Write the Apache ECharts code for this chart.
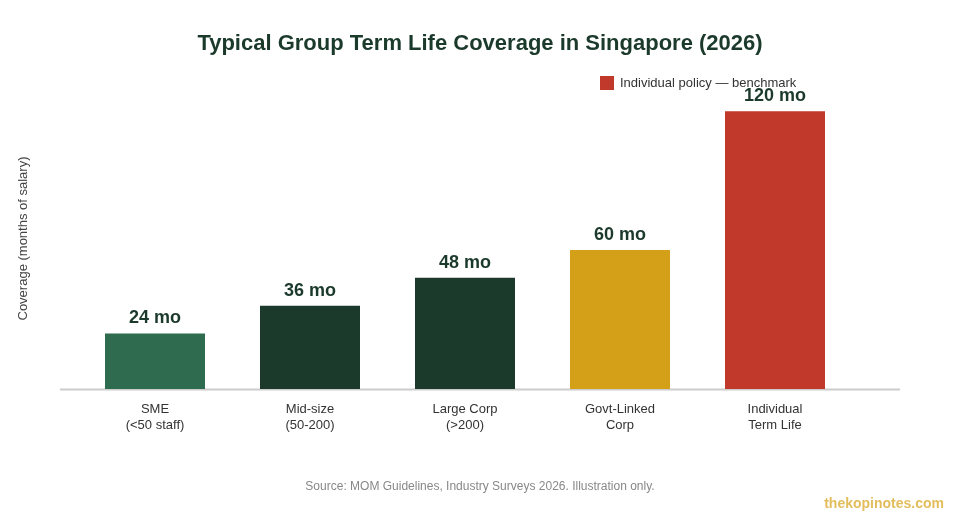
<!DOCTYPE html>
<html>
<head>
<meta charset="utf-8">
<script src="https://cdn.jsdelivr.net/npm/echarts@6/dist/echarts.min.js"></script>
<style>
  html, body { margin: 0; padding: 0; background: #fff; }
  #main { width: 960px; height: 520px; }
</style>
</head>
<body>
<div id="main"></div>
<script>
// chart data
var categories = ['SME\n(<50 staff)', 'Mid-size\n(50-200)', 'Large Corp\n(>200)', 'Govt-Linked\nCorp', 'Individual\nTerm Life'];
var coverageMonths = [24, 36, 48, 60, 120];
var barColors = ['#2e6b4f', '#1c3a2c', '#1c3a2c', '#d4a017', '#c0392b'];
var legendName = 'Individual policy \u2014 benchmark';

var myChart = echarts.init(document.getElementById('main'));

var seriesData = [];
for (var i = 0; i < coverageMonths.length; i++) {
    seriesData.push({ value: coverageMonths[i], itemStyle: { color: barColors[i] } });
}

var option = {
    backgroundColor: '#fff',
    animation: false,
    title: {
        text: 'Typical Group Term Life Coverage in Singapore (2026)',
        left: 'center',
        top: 28,
        textStyle: { fontFamily: 'Liberation Sans, Arial', fontSize: 22, fontWeight: 'bold', color: '#1c3a2c' }
    },
    legend: {
        data: [legendName],
        left: 595,
        top: 71,
        itemWidth: 14,
        itemHeight: 14,
        itemGap: 6,
        icon: 'rect',
        textStyle: { fontFamily: 'Liberation Sans, Arial', fontSize: 13, color: '#333', padding: [0, 0, 0, 1] }
    },
    grid: { left: 77.5, right: 107.5, top: 88, bottom: 131 },
    xAxis: {
        type: 'category',
        data: categories,
        axisLine: { show: false },
        axisTick: { show: false },
        axisLabel: {
            margin: 12,
            fontFamily: 'Liberation Sans, Arial',
            fontSize: 13,
            color: '#333',
            lineHeight: 16
        }
    },
    yAxis: {
        type: 'value',
        min: 0,
        max: 130,
        name: 'Coverage (months of salary)',
        nameLocation: 'middle',
        nameGap: 48,
        nameTextStyle: { fontFamily: 'Liberation Sans, Arial', fontSize: 13, color: '#444' },
        axisLabel: { show: false },
        axisLine: { show: false },
        axisTick: { show: false },
        splitLine: { show: false }
    },
    series: [{
        name: legendName,
        type: 'bar',
        barWidth: 100,
        itemStyle: { color: '#c0392b' },
        data: seriesData,
        label: {
            show: true,
            position: 'top',
            distance: 6,
            formatter: '{c} mo',
            fontFamily: 'Liberation Sans, Arial',
            fontSize: 18,
            fontWeight: 'bold',
            color: '#1c3a2c'
        }
    }],
    graphic: [
        {
            type: 'line',
            shape: { x1: 60, y1: 389.5, x2: 900, y2: 389.5 },
            style: { stroke: '#cccccc', lineWidth: 2 },
            z: 1
        },
        {
            type: 'text',
            left: 'center',
            top: 481,
            style: {
                text: 'Source: MOM Guidelines, Industry Surveys 2026. Illustration only.',
                fontFamily: 'Liberation Sans, Arial',
                fontSize: 12,
                fill: '#888'
            }
        },
        {
            type: 'text',
            right: 16,
            top: 497,
            style: {
                text: 'thekopinotes.com',
                fontFamily: 'Liberation Sans, Arial',
                fontSize: 14,
                fontWeight: 'bold',
                fill: '#e3bd5c'
            }
        }
    ]
};

myChart.setOption(option);
</script>
</body>
</html>
